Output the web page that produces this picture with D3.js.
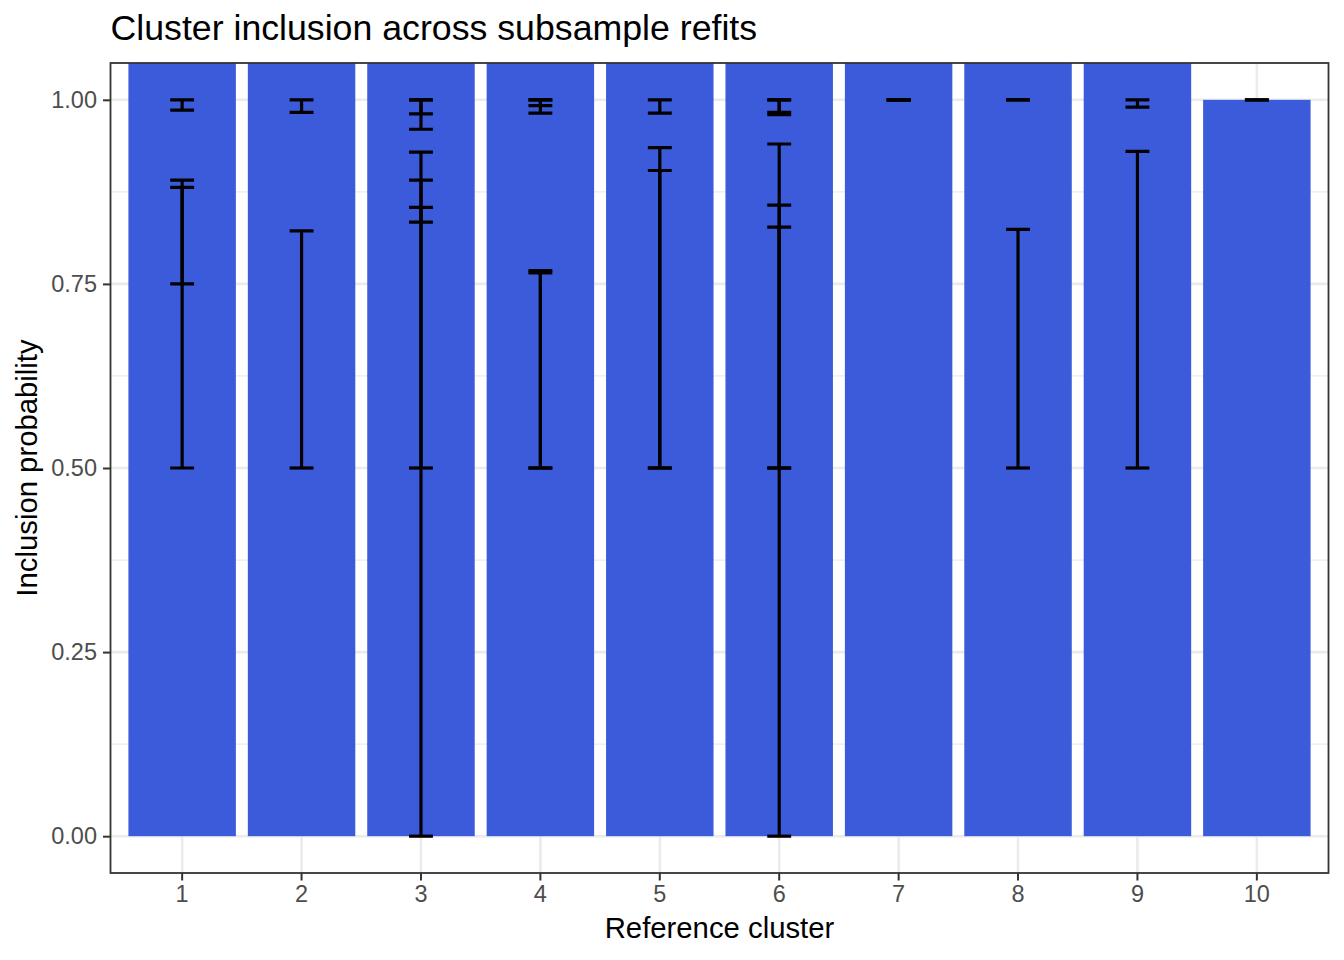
<!DOCTYPE html>
<html>
<head>
<meta charset="utf-8">
<script src="https://cdn.jsdelivr.net/npm/d3@7"></script>
<style>
  body { margin: 0; background: #fff; }
  text { font-family: "Liberation Sans", Arial, sans-serif; }
</style>
</head>
<body>
<div id="chart"></div>
<script>
// Clusters on the x axis
const clusters = ["1", "2", "3", "4", "5", "6", "7", "8", "9", "10"];

// One entry per refit row: which cluster, estimate, interval
const rowCluster = ["1", "1", "1", "2", "2", "3", "3", "3", "3", "3",
  "4", "4", "4", "4", "5", "5", "5", "6", "6", "6", "6", "6",
  "7", "7", "8", "8", "9", "9", "10"];
const rowEstimate = [0.995, 0.82, 0.83, 0.993, 0.70, 0.992, 0.985, 0.60, 0.75, 0.87,
  0.995, 0.997, 0.66, 0.65, 0.993, 0.78, 0.74, 0.992, 0.993, 0.55, 0.72, 0.80,
  1.0, 1.0, 1.0, 0.70, 0.996, 0.78, 1.0];
const rowLower = [0.986, 0.5, 0.75, 0.983, 0.5, 0.981, 0.96, 0.0, 0.5, 0.834,
  0.982, 0.992, 0.5, 0.5, 0.982, 0.5, 0.5, 0.980, 0.983, 0.0, 0.5, 0.5,
  1.0, 1.0, 1.0, 0.5, 0.990, 0.5, 1.0];
const rowUpper = [1.0, 0.891, 0.881, 1.0, 0.822, 1.0, 1.0, 0.854, 0.929, 0.891,
  1.0, 1.0, 0.768, 0.765, 1.0, 0.935, 0.904, 1.0, 1.0, 0.827, 0.857, 0.940,
  1.0, 1.0, 1.0, 0.824, 1.0, 0.930, 1.0];

const yTicks = [0, 0.25, 0.5, 0.75, 1];
const yMinor = [0.125, 0.375, 0.625, 0.875];

const width = 1344;
const height = 960;
const panel = { left: 110.5, right: 1328.5, top: 63, bottom: 873 };

const rows = rowCluster.map((c, i) => ({
  cluster: c,
  estimate: rowEstimate[i],
  lower: rowLower[i],
  upper: rowUpper[i]
}));

// bars are stacked estimates per cluster
const totals = d3.rollup(rows, (v) => d3.sum(v, (d) => d.estimate), (d) => d.cluster);

const svg = d3
  .select("#chart")
  .append("svg")
  .attr("width", width)
  .attr("height", height);

const xScale = d3
  .scaleBand()
  .domain(clusters)
  .range([panel.left, panel.right])
  .paddingInner(0.1)
  .paddingOuter(0.15);

const yScale = d3
  .scaleLinear()
  .domain([-0.05, 1.05])
  .range([panel.bottom, panel.top]);

const cx = (c) => xScale(c) + xScale.bandwidth() / 2;

svg.append("defs")
  .append("clipPath")
  .attr("id", "panel-clip")
  .append("rect")
  .attr("x", panel.left)
  .attr("y", panel.top)
  .attr("width", panel.right - panel.left)
  .attr("height", panel.bottom - panel.top);

const plot = svg.append("g").attr("clip-path", "url(#panel-clip)");

// grid lines
plot.selectAll(".minor")
  .data(yMinor)
  .join("line")
  .attr("x1", panel.left)
  .attr("x2", panel.right)
  .attr("y1", (d) => yScale(d))
  .attr("y2", (d) => yScale(d))
  .attr("stroke", "#ebebeb")
  .attr("stroke-width", 1.3);

plot.selectAll(".major-y")
  .data(yTicks)
  .join("line")
  .attr("x1", panel.left)
  .attr("x2", panel.right)
  .attr("y1", (d) => yScale(d))
  .attr("y2", (d) => yScale(d))
  .attr("stroke", "#ebebeb")
  .attr("stroke-width", 2.6);

plot.selectAll(".major-x")
  .data(clusters)
  .join("line")
  .attr("x1", cx)
  .attr("x2", cx)
  .attr("y1", panel.top)
  .attr("y2", panel.bottom)
  .attr("stroke", "#ebebeb")
  .attr("stroke-width", 2.6);

// bars
plot.selectAll(".bar")
  .data(clusters)
  .join("rect")
  .attr("x", (d) => xScale(d))
  .attr("width", xScale.bandwidth())
  .attr("y", (d) => yScale(totals.get(d)))
  .attr("height", (d) => yScale(0) - yScale(totals.get(d)))
  .attr("fill", "#3b5bdb");

// error bars
const capHalf = xScale.step() * 0.1;
const eb = plot.selectAll(".eb").data(rows).join("g");
eb.append("line")
  .attr("x1", (d) => cx(d.cluster))
  .attr("x2", (d) => cx(d.cluster))
  .attr("y1", (d) => yScale(d.lower))
  .attr("y2", (d) => yScale(d.upper));
eb.append("line")
  .attr("x1", (d) => cx(d.cluster) - capHalf)
  .attr("x2", (d) => cx(d.cluster) + capHalf)
  .attr("y1", (d) => yScale(d.upper))
  .attr("y2", (d) => yScale(d.upper));
eb.append("line")
  .attr("x1", (d) => cx(d.cluster) - capHalf)
  .attr("x2", (d) => cx(d.cluster) + capHalf)
  .attr("y1", (d) => yScale(d.lower))
  .attr("y2", (d) => yScale(d.lower));
eb.selectAll("line")
  .attr("stroke", "#000")
  .attr("stroke-width", 3.2);

// panel border
svg.append("rect")
  .attr("x", panel.left)
  .attr("y", panel.top)
  .attr("width", panel.right - panel.left)
  .attr("height", panel.bottom - panel.top)
  .attr("fill", "none")
  .attr("stroke", "#333333")
  .attr("stroke-width", 1.8);

// axes
const yAxis = svg.append("g")
  .attr("transform", `translate(${panel.left}, 0)`)
  .call(d3.axisLeft(yScale).tickValues(yTicks).tickFormat(d3.format(".2f")).tickSize(7.5).tickPadding(6));

const xAxis = svg.append("g")
  .attr("transform", `translate(0, ${panel.bottom})`)
  .call(d3.axisBottom(xScale).tickSize(7.5).tickPadding(5));

[yAxis, xAxis].forEach((ax) => {
  ax.select(".domain").remove();
  ax.selectAll(".tick line").attr("stroke", "#333333").attr("stroke-width", 2);
  ax.selectAll(".tick text")
    .attr("fill", "#4d4d4d")
    .style("font-size", "23.5px")
    .style("font-family", "'Liberation Sans', Arial, sans-serif");
});

// labels
svg.append("text")
  .attr("x", (panel.left + panel.right) / 2)
  .attr("y", 938)
  .attr("text-anchor", "middle")
  .style("font-size", "29.3px")
  .text("Reference cluster");

svg.append("text")
  .attr("transform", `translate(37, ${(panel.top + panel.bottom) / 2}) rotate(-90)`)
  .attr("text-anchor", "middle")
  .style("font-size", "29.3px")
  .text("Inclusion probability");

svg.append("text")
  .attr("x", panel.left)
  .attr("y", 40)
  .style("font-size", "35.7px")
  .text("Cluster inclusion across subsample refits");
</script>
</body>
</html>
